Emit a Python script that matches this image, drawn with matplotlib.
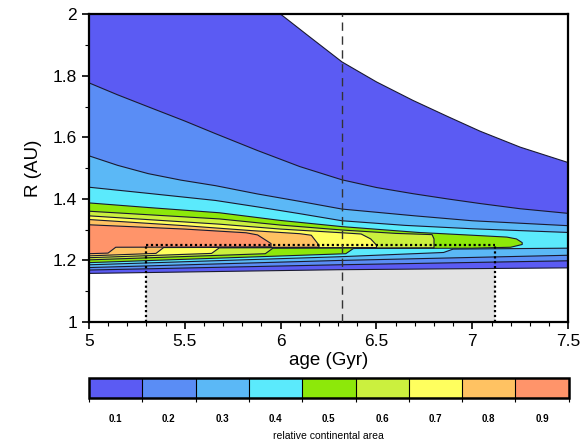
import numpy as np
import matplotlib
matplotlib.use('Agg')
import matplotlib.pyplot as plt
from matplotlib.colors import ListedColormap, BoundaryNorm
from matplotlib.cm import ScalarMappable

plt.rcParams['font.family'] = ['Liberation Sans', 'DejaVu Sans']

# contour levels of relative continental area and their fill colours
levels = [0.05, 0.15, 0.25, 0.35, 0.45, 0.55, 0.65, 0.75, 0.85, 0.95]
cb_ticks = [0.1, 0.2, 0.3, 0.4, 0.5, 0.6, 0.7, 0.8, 0.9]
fill_colors = ['#5b5bf3', '#5a8df5', '#5bb8f6', '#5beafc', '#8de80a',
               '#cbf03e', '#ffff5e', '#ffc262', '#ff946a']

# region where area >= level: top edge and bottom edge, (age, R)
a05_top = [5.0, 6.0, 6.15, 6.32, 6.5, 6.69, 6.87, 7.04, 7.25, 7.5]
r05_top = [2.0, 2.0, 1.927, 1.845, 1.78, 1.72, 1.668, 1.62, 1.568, 1.518]
a05_bot = [5.0, 6.3, 7.5]
r05_bot = [1.158, 1.170, 1.176]

a15_top = [5.0, 5.15, 5.31, 5.5, 5.66, 5.88, 6.1, 6.32, 6.5, 6.69, 6.87, 7.04, 7.25, 7.5]
r15_top = [1.777, 1.738, 1.699, 1.653, 1.612, 1.557, 1.505, 1.462, 1.437, 1.417, 1.40, 1.385, 1.368, 1.353]
a15_bot = [5.0, 6.3, 7.5]
r15_bot = [1.169, 1.186, 1.199]

a25_top = [5.0, 5.15, 5.31, 5.48, 5.66, 5.88, 6.1, 6.32, 6.7, 7.0, 7.5]
r25_top = [1.540, 1.509, 1.482, 1.461, 1.443, 1.416, 1.392, 1.367, 1.345, 1.329, 1.313]
a25_bot = [5.0, 6.3, 7.5]
r25_bot = [1.177, 1.200, 1.217]

a35_top = [5.0, 5.31, 5.66, 5.88, 6.1, 6.32, 6.65, 7.0, 7.5]
r35_top = [1.438, 1.418, 1.395, 1.374, 1.352, 1.329, 1.314, 1.303, 1.291]
a35_bot = [5.0, 6.3, 6.85, 6.9, 7.5]
r35_bot = [1.186, 1.212, 1.226, 1.237, 1.240]

a45_top = [5.0, 5.31, 5.68, 6.0, 6.32, 6.72, 7.0, 7.18, 7.23, 7.26]
r45_top = [1.387, 1.372, 1.355, 1.330, 1.310, 1.291, 1.282, 1.276, 1.270, 1.258]
a45_bot = [5.0, 6.34, 6.38, 7.0, 7.2, 7.26]
r45_bot = [1.193, 1.222, 1.239, 1.240, 1.243, 1.252]

a55_top = [5.0, 5.68, 6.0, 6.32, 6.6, 6.79, 6.80]
r55_top = [1.360, 1.335, 1.315, 1.299, 1.288, 1.284, 1.270]
a55_bot = [5.0, 5.92, 5.96, 6.80]
r55_bot = [1.202, 1.222, 1.240, 1.241]

a65_top = [5.0, 5.68, 6.0, 6.32, 6.42, 6.47, 6.50]
r65_top = [1.345, 1.318, 1.302, 1.290, 1.286, 1.270, 1.250]
a65_bot = [5.0, 5.64, 5.68, 6.50]
r65_bot = [1.209, 1.223, 1.241, 1.242]

a75_top = [5.0, 5.5, 5.85, 6.1, 6.16, 6.20]
r75_top = [1.333, 1.313, 1.297, 1.287, 1.282, 1.250]
a75_bot = [5.0, 5.35, 5.39, 6.20]
r75_bot = [1.215, 1.223, 1.242, 1.243]

a85_top = [5.0, 5.5, 5.82, 5.88, 5.95]
r85_top = [1.316, 1.302, 1.290, 1.283, 1.255]
a85_bot = [5.0, 5.10, 5.14, 5.95]
r85_bot = [1.222, 1.224, 1.243, 1.244]

bands = [(a05_top, r05_top, a05_bot, r05_bot),
         (a15_top, r15_top, a15_bot, r15_bot),
         (a25_top, r25_top, a25_bot, r25_bot),
         (a35_top, r35_top, a35_bot, r35_bot),
         (a45_top, r45_top, a45_bot, r45_bot),
         (a55_top, r55_top, a55_bot, r55_bot),
         (a65_top, r65_top, a65_bot, r65_bot),
         (a75_top, r75_top, a75_bot, r75_bot),
         (a85_top, r85_top, a85_bot, r85_bot)]

# marked window and reference age
age_window = [5.30, 7.12]
R_window = 1.25
age_ref = 6.32

fig = plt.figure(figsize=(5.81, 4.43), dpi=100)
ax = fig.add_axes([0.153, 0.273, 0.825, 0.695])

ax.fill_between(age_window, 1.0, R_window, color='#e3e3e3', lw=0, zorder=0)

line_col = '#1a1a30'
for i, (at, rt, ab, rb) in enumerate(bands):
    xs = list(at) + list(ab[::-1])
    ys = list(rt) + list(rb[::-1])
    ax.fill(xs, ys, color=fill_colors[i], lw=0, zorder=1 + i * 0.01)
for i, (at, rt, ab, rb) in enumerate(bands):
    xs = list(at) + list(ab[::-1])
    ys = list(rt) + list(rb[::-1])
    if i > 3:
        xs.append(xs[0]); ys.append(ys[0])
        ax.plot(xs, ys, color=line_col, lw=0.8, zorder=2)
    else:
        ax.plot(at, rt, color=line_col, lw=0.8, zorder=2)
        ax.plot(ab, rb, color=line_col, lw=0.8, zorder=2)

ax.plot(age_window, [R_window, R_window], color='black', lw=1.6, ls=(0, (1, 1.2)), zorder=3)
for a in age_window:
    ax.plot([a, a], [1.0, R_window], color='black', lw=1.6, ls=(0, (1, 1.2)), zorder=3)
ax.axvline(age_ref, color='#333333', lw=1.0, ls=(0, (6, 4)), zorder=3)

ax.set_xlim(5, 7.5)
ax.set_ylim(1, 2)
ax.set_xticks([5, 5.5, 6, 6.5, 7, 7.5])
ax.set_xticklabels(['5', '5.5', '6', '6.5', '7', '7.5'])
ax.set_yticks([1, 1.2, 1.4, 1.6, 1.8, 2])
ax.set_yticklabels(['1', '1.2', '1.4', '1.6', '1.8', '2'])
ax.set_xticks(np.arange(5, 7.51, 0.1), minor=True)
ax.set_yticks(np.arange(1, 2.01, 0.1), minor=True)
ax.tick_params(which='major', direction='out', length=5, width=1.2, labelsize=12.5)
ax.tick_params(which='minor', direction='out', length=3, width=0.8)
for s in ax.spines.values():
    s.set_linewidth(1.6)
ax.set_xlabel('age (Gyr)', fontsize=13.5, labelpad=2)
ax.set_ylabel('R (AU)', fontsize=13.5, labelpad=8)

cax = fig.add_axes([0.153, 0.102, 0.826, 0.045])
sm = ScalarMappable(norm=BoundaryNorm(levels, len(fill_colors)),
                    cmap=ListedColormap(fill_colors))
cb = fig.colorbar(sm, cax=cax, orientation='horizontal', drawedges=True)
cb.outline.set_linewidth(1.8)
cb.dividers.set_linewidth(0.8)
cb.set_ticks(cb_ticks)
cb.set_ticklabels(['%.1f' % t for t in cb_ticks])
cax.set_xticks(levels, minor=True)
cax.tick_params(which='major', length=0, labelsize=7, pad=12)
cax.tick_params(which='minor', length=3, width=0.8)
for lab in cax.get_xticklabels():
    lab.set_fontweight('bold')
cb.set_label('relative continental area', fontsize=7.5, labelpad=5)

fig.savefig('out.png', dpi=100)
